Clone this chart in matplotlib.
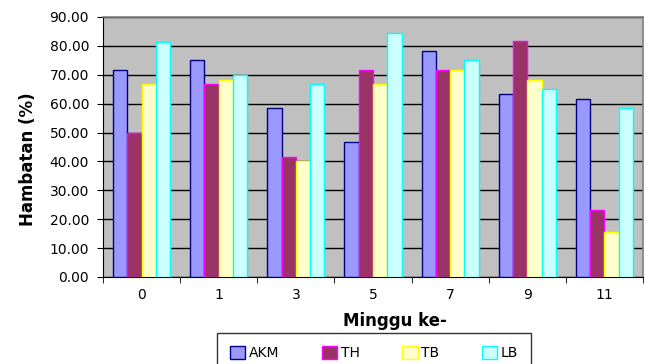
import matplotlib.pyplot as plt
import numpy as np
from matplotlib.ticker import FixedLocator, FormatStrFormatter

weeks = ['0', '1', '3', '5', '7', '9', '11']
akm = [71.67, 75.00, 58.33, 46.67, 78.33, 63.33, 61.67]
th = [50.00, 66.67, 41.67, 71.67, 71.67, 81.67, 23.33]
tb = [66.67, 68.33, 40.00, 66.67, 71.67, 68.33, 15.50]
lb = [81.50, 70.00, 66.67, 84.60, 75.00, 65.00, 58.33]

series = [
    ('AKM', akm, '#9999FF', '#000080'),
    ('TH', th, '#993366', '#FF00FF'),
    ('TB', tb, '#FFFFCC', '#FFFF00'),
    ('LB', lb, '#CCFFFF', '#00FFFF'),
]

plt.rcParams['font.family'] = 'DejaVu Sans'
plt.rcParams['font.size'] = 10

figure = plt.figure(figsize=(6.45, 3.64), dpi=100)
axes = figure.add_axes([103 / 645, 87 / 364, 540 / 645, 260 / 364])
axes.set_facecolor('#C0C0C0')

x = np.arange(len(weeks))
width = 0.185
for i, (name, values, face, edge) in enumerate(series):
    offset = (i - 1.5) * width
    axes.bar(x + offset, values, width, color=face, edgecolor=edge,
             linewidth=1.0, label=name, zorder=3)

axes.set_xlim(-0.5, len(weeks) - 0.5)
axes.set_ylim(0, 90)
axes.set_yticks(np.arange(0, 91, 10))
axes.yaxis.set_major_formatter(FormatStrFormatter('%.2f'))
axes.yaxis.grid(True, color='black', linewidth=1.0, zorder=1)
axes.set_axisbelow(True)

axes.set_xticks(x)
axes.set_xticklabels(weeks)
axes.tick_params(axis='x', which='major', length=0, pad=8)
axes.xaxis.set_minor_locator(FixedLocator(np.arange(-0.5, len(weeks), 1.0)))
axes.tick_params(axis='x', which='minor', length=4, direction='out')
axes.tick_params(axis='y', length=4, direction='out', pad=6)

for side in ('top', 'right'):
    axes.spines[side].set_color('#808080')
    axes.spines[side].set_linewidth(1.2)
for side in ('left', 'bottom'):
    axes.spines[side].set_color('black')

figure.text(28 / 645, 1 - 159 / 364, 'Hambatan (%)', fontsize=12,
            fontweight='bold', rotation=90, ha='center', va='center')
figure.text(395 / 645, 1 - 321 / 364, 'Minggu ke-', fontsize=12,
            fontweight='bold', ha='center', va='center')

legend = figure.legend(loc='upper left',
                       bbox_to_anchor=(217 / 645, 1 - 333 / 364, 314 / 645, 0.0),
                       mode='expand', ncol=4, frameon=True, fancybox=False,
                       edgecolor='black', handlelength=1.1, handleheight=1.0,
                       handletextpad=0.25, borderpad=0.95, borderaxespad=0.0,
                       fontsize=10)
legend.get_frame().set_linewidth(1.0)

figure.savefig('out.png', dpi=100)
